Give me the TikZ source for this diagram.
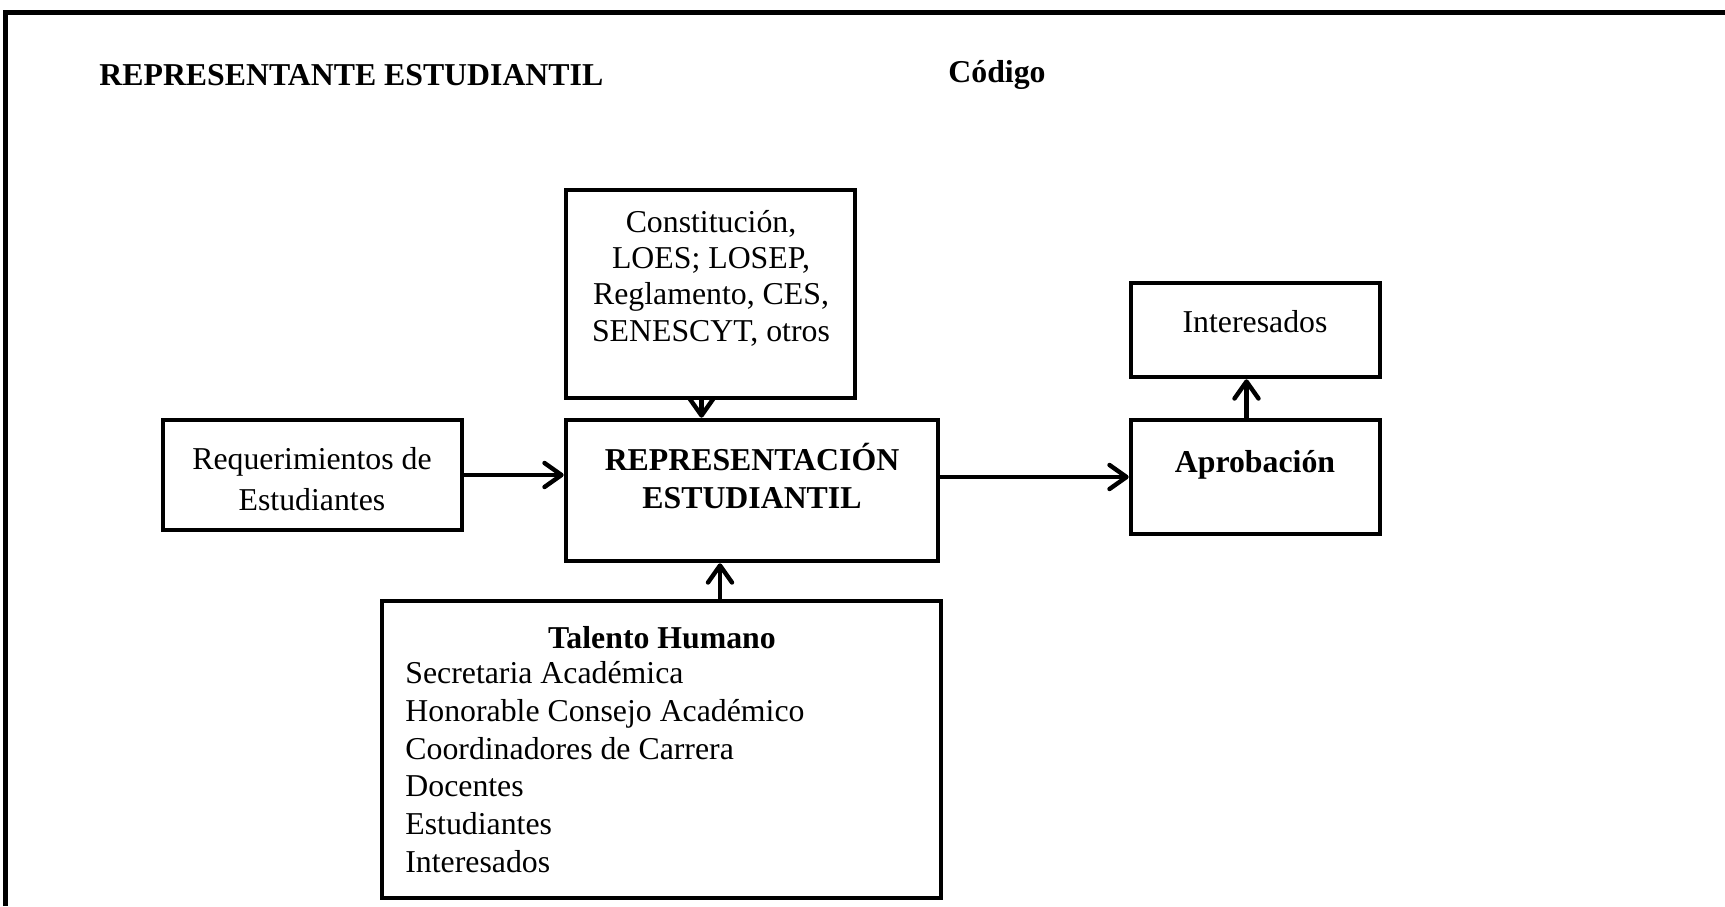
\documentclass[tikz,border=0pt]{standalone}
\usepackage{fontspec}
\setmainfont{Liberation Serif}
\usetikzlibrary{arrows.meta,calc}
\tikzset{
  box/.style={draw, line width=2.3pt, rectangle, inner sep=0pt},
  txt/.style={inner sep=0pt, align=center, font=\fontsize{15.9}{18.2}\selectfont},
  btxt/.style={txt, font=\fontsize{15.9}{19.2}\selectfont\bfseries},
  arr/.style={line width=2.2pt, -{Straight Barb[length=8.5pt,width=12pt,line width=2.2pt,round]}},
}
\begin{document}
\begin{tikzpicture}[x=0.5pt, y=-0.5pt]
\useasboundingbox (0,0) rectangle (1725,906);
% page frame
\draw[line width=2.5pt] (5,906) -- (5,12) -- (1725,12);

% header
\node[btxt, anchor=west] (title) at (99,75) {REPRESENTANTE ESTUDIANTIL};
\node[btxt, anchor=west] (code) at (948,75) {Código};

% boxes
\node[box, minimum width=144.5pt, minimum height=104pt] (norm) at (710.5,294) {};
\node[box, minimum width=149.5pt, minimum height=55pt] (req) at (312.5,475) {};
\node[box, minimum width=186pt, minimum height=70.5pt] (ctr) at (752,490.5) {};
\node[box, minimum width=124.5pt, minimum height=57pt] (apr) at (1255.5,477) {};
\node[box, minimum width=124.5pt, minimum height=47pt] (int) at (1255.5,330) {};
\node[box, minimum width=279.5pt, minimum height=148.5pt] (tal) at (661.5,749.5) {};

% box texts
\node[txt] (normt) at (711,278) {Constitución,\\LOES; LOSEP,\\Reglamento, CES,\\SENESCYT, otros};
\node[txt, font=\fontsize{15.9}{20.2}\selectfont] (reqt) at (312,479) {Requerimientos de\\Estudiantes};
\node[btxt] (ctrt) at (752,476) {REPRESENTACIÓN\\ESTUDIANTIL};
\node[btxt] (aprt) at (1255,465) {Aprobación};
\node[txt] (intt) at (1255,322) {Interesados};
\node[btxt] (talh) at (662,638) {Talento Humano};
\node[txt, align=left, anchor=west, font=\fontsize{15.9}{18.9}\selectfont] (tall) at (405,767)
  {Secretaria Académica\\Honorable Consejo Académico\\Coordinadores de Carrera\\Docentes\\Estudiantes\\Interesados};

% connectors
\coordinate (na) at ($(norm.south)+(-9,0)$);
\draw[arr] (na) -- (na |- ctr.north);
\coordinate (ta) at ($(ctr.south)+(-32,0)$);
\draw[arr] (ta |- tal.north) -- (ta);
\draw[arr] (req.east) -- (req.east -| ctr.west);
\draw[arr] (ctr.east |- apr.west) -- (apr.west);
\coordinate (aa) at ($(apr.north)+(-9,0)$);
\draw[arr] (aa) -- (aa |- int.south);
\end{tikzpicture}
\end{document}
